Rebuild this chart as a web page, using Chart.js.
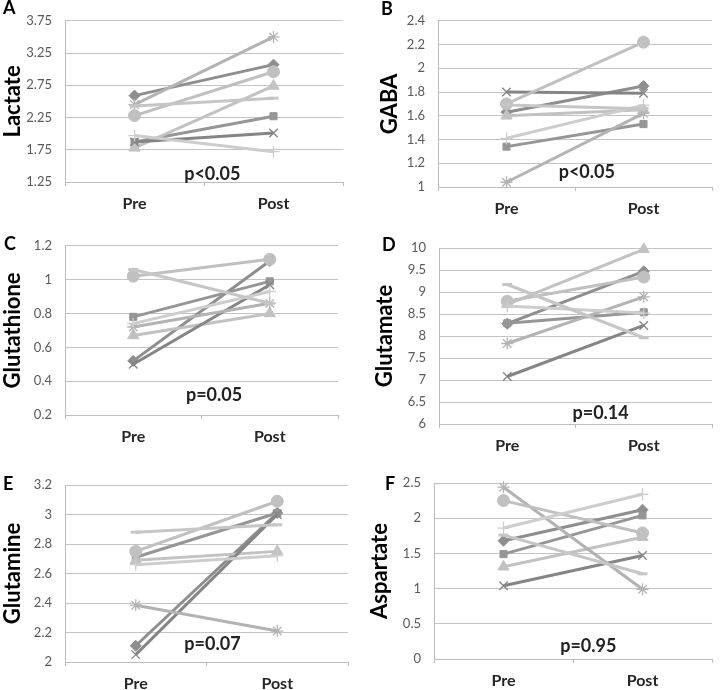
<!DOCTYPE html>
<html>
<head>
<meta charset="utf-8">
<script src="https://cdn.jsdelivr.net/npm/chart.js@4.4.1/dist/chart.umd.min.js"></script>
<style>
  html, body { margin: 0; padding: 0; background: #fff; }
  #wrap { position: relative; width: 720px; height: 690px; overflow: hidden; background: #fff; }
  canvas { position: absolute; }
  .lbl { position: absolute; font-family: Lato, "Open Sans", sans-serif; font-weight: 700; font-size: 18px; line-height: 1; color: #000; }
</style>
</head>
<body>
<div id="wrap">
  <canvas id="cA"></canvas><canvas id="cB"></canvas>
  <canvas id="cC"></canvas><canvas id="cD"></canvas>
  <canvas id="cE"></canvas><canvas id="cF"></canvas>
  <div class="lbl" style="left:3px;top:-2px;">A</div>
  <div class="lbl" style="left:381px;top:-1px;">B</div>
  <div class="lbl" style="left:4px;top:234px;">C</div>
  <div class="lbl" style="left:382px;top:235px;">D</div>
  <div class="lbl" style="left:3px;top:474px;">E</div>
  <div class="lbl" style="left:385px;top:474px;">F</div>
</div>
<script>
// ---------- DATA ----------
const categories = ['Pre', 'Post'];
// series order: diamond, square, triangle, x, star, circle, plus, dash
const lactatePre  = [2.59, 1.87, 1.78, 1.87, 2.45, 2.28, 1.97, 2.43];
const lactatePost = [3.07, 2.27, 2.74, 2.01, 3.50, 2.96, 1.72, 2.55];
const lactateTicks = [1.25, 1.75, 2.25, 2.75, 3.25, 3.75];

const gabaPre  = [1.63, 1.34, 1.60, 1.80, 1.04, 1.70, 1.41, 1.69];
const gabaPost = [1.85, 1.53, 1.65, 1.79, 1.62, 2.22, 1.69, 1.66];
const gabaTicks = [1, 1.2, 1.4, 1.6, 1.8, 2, 2.2, 2.4];

const glutathionePre  = [0.52, 0.78, 0.67, 0.50, 0.72, 1.02, 0.74, 1.06];
const glutathionePost = [1.11, 0.99, 0.80, 0.97, 0.86, 1.12, 0.93, 0.86];
const glutathioneTicks = [0.2, 0.4, 0.6, 0.8, 1, 1.2];

const glutamatePre  = [8.28, 8.29, 8.72, 7.08, 7.83, 8.79, 8.68, 9.17];
const glutamatePost = [9.47, 8.54, 9.97, 8.24, 8.89, 9.34, 8.52, 7.96];
const glutamateTicks = [6, 6.5, 7, 7.5, 8, 8.5, 9, 9.5, 10];

const glutaminePre  = [2.11, 2.71, 2.69, 2.05, 2.385, 2.75, 2.66, 2.88];
const glutaminePost = [3.01, 3.01, 2.75, 3.00, 2.21, 3.09, 2.72, 2.93];
const glutamineTicks = [2, 2.2, 2.4, 2.6, 2.8, 3, 3.2];

const aspartatePre  = [1.68, 1.49, 1.31, 1.04, 2.44, 2.25, 1.86, 1.76];
const aspartatePost = [2.12, 2.04, 1.73, 1.47, 0.99, 1.79, 2.34, 1.21];
const aspartateTicks = [0, 0.5, 1, 1.5, 2, 2.5];

const pLabels = ['p<0.05', 'p<0.05', 'p=0.05', 'p=0.14', 'p=0.07', 'p=0.95'];
const axisTitles = ['Lactate', 'GABA', 'Glutathione', 'Glutamate', 'Glutamine', 'Aspartate'];

// ---------- STYLE ----------
const FONT = 'Lato, "Open Sans", sans-serif';
const seriesStyle = [
  { color: '#8e8e8e', point: 'rectRot',  r: 5.5, bw: 1 },
  { color: '#969696', point: 'rect',     r: 5,   bw: 1 },
  { color: '#c2c2c2', point: 'triangle', r: 6.5, bw: 1 },
  { color: '#858585', point: 'crossRot', r: 6,   bw: 1.3 },
  { color: '#b3b3b3', point: 'star',     r: 6,   bw: 1.3 },
  { color: '#c0c0c0', point: 'circle',   r: 6,   bw: 1 },
  { color: '#cdcdcd', point: 'cross',    r: 6,   bw: 1.3 },
  { color: '#c6c6c6', point: 'line',     r: 5,   bw: 3 }
];

const panels = [
  { id: 'cA', x: 0,   y: 0,   w: 360, h: 225, l: 65, t: 11, r: 343, b: 182, padL: 0,  pre: lactatePre, post: lactatePost, ticks: lactateTicks, px: 0.53, pv: 1.37 },
  { id: 'cB', x: 360, y: 0,   w: 360, h: 225, l: 78, t: 17, r: 355, b: 187, padL: 17, pre: gabaPre, post: gabaPost, ticks: gabaTicks, px: 0.543, pv: 1.125 },
  { id: 'cC', x: 0,   y: 225, w: 360, h: 230, l: 65, t: 20, r: 338, b: 190, padL: 0,  pre: glutathionePre, post: glutathionePost, ticks: glutathioneTicks, px: 0.546, pv: 0.32 },
  { id: 'cD', x: 360, y: 225, w: 360, h: 230, l: 79, t: 23, r: 355, b: 199, padL: 12, pre: glutamatePre, post: glutamatePost, ticks: glutamateTicks, px: 0.592, pv: 6.25 },
  { id: 'cE', x: 0,   y: 455, w: 360, h: 235, l: 65, t: 30, r: 348, b: 207, padL: 0,  pre: glutaminePre, post: glutaminePost, ticks: glutamineTicks, px: 0.521, pv: 2.12 },
  { id: 'cF', x: 360, y: 455, w: 360, h: 235, l: 74, t: 28, r: 358, b: 204, padL: 7,  pre: aspartatePre, post: aspartatePost, ticks: aspartateTicks, px: 0.555, pv: 0.18 }
];

const pPlugin = {
  id: 'pText',
  afterDatasetsDraw(chart, args, opts) {
    const { ctx, chartArea } = chart;
    const ys = chart.scales.y;
    ctx.save();
    ctx.font = 'bold 18px ' + FONT;
    ctx.fillStyle = '#222';
    ctx.textAlign = 'center';
    ctx.textBaseline = 'middle';
    ctx.fillText(opts.text, chartArea.left + opts.frac * chartArea.width, ys.getPixelForValue(opts.value));
    ctx.restore();
  }
};

panels.forEach((p, idx) => {
  const cv = document.getElementById(p.id);
  cv.style.left = p.x + 'px';
  cv.style.top = p.y + 'px';
  cv.style.width = p.w + 'px';
  cv.style.height = p.h + 'px';
  cv.width = p.w; cv.height = p.h;

  const datasets = seriesStyle.map((s, i) => ({
    label: 'S' + (i + 1),
    data: [p.pre[i], p.post[i]],
    borderColor: s.color,
    backgroundColor: s.color,
    pointBackgroundColor: s.color,
    pointBorderColor: s.color,
    pointStyle: s.point,
    pointRadius: s.r,
    pointHoverRadius: s.r,
    pointBorderWidth: s.bw,
    borderWidth: 3,
    tension: 0,
    clip: false,
    order: 8 - i
  }));

  const tickVals = p.ticks;
  new Chart(cv, {
    type: 'line',
    data: { labels: categories, datasets },
    plugins: [pPlugin],
    options: {
      responsive: false,
      animation: false,
      devicePixelRatio: 1,
      layout: { padding: { left: p.padL, top: p.t, right: p.w - p.r, bottom: 0 } },
      plugins: {
        legend: { display: false },
        tooltip: { enabled: false },
        pText: { text: pLabels[idx], frac: p.px, value: p.pv }
      },
      scales: {
        x: {
          type: 'category',
          offset: true,
          grid: { display: true, offset: true, drawOnChartArea: false, drawTicks: true, tickLength: 4, color: '#bdbdbd' },
          border: { display: true, color: '#bdbdbd', width: 1 },
          ticks: { padding: 8, color: '#262626', font: { family: FONT, size: 16, weight: 'bold' }, maxRotation: 0 },
          afterFit(scale) { scale.height = p.h - p.b; }
        },
        y: {
          min: tickVals[0],
          max: tickVals[tickVals.length - 1],
          afterBuildTicks(scale) { scale.ticks = tickVals.map(v => ({ value: v })); },
          grid: { color: '#c4c4c4', drawTicks: false, lineWidth: 1 },
          border: { display: true, color: '#bdbdbd', width: 1 },
          ticks: { padding: 13, color: '#595959', font: { family: FONT, size: 13 }, callback: v => String(v) },
          title: { display: true, text: axisTitles[idx], color: '#000', padding: 0, font: { family: FONT, size: 22, weight: 'bold', lineHeight: 1.2 } },
          afterFit(scale) { scale.width = p.l - p.padL; }
        }
      }
    }
  });
});
</script>
</body>
</html>
